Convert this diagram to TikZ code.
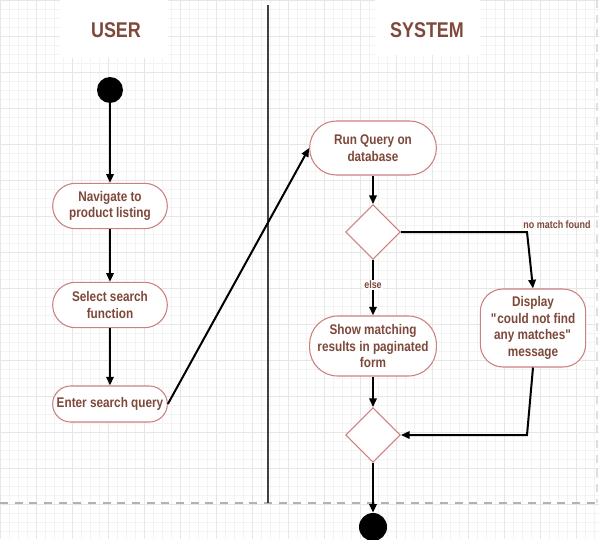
\documentclass[tikz,border=0pt]{standalone}
\usepackage{fontspec}
\setmainfont{Liberation Sans}[FakeStretch=0.84]
\usetikzlibrary{arrows.meta, shapes.geometric, positioning}

\definecolor{txtbrown}{RGB}{126,72,58}
\definecolor{edgered}{RGB}{204,128,128}
\definecolor{gridgray}{RGB}{243,243,243}
\definecolor{gridmajor}{RGB}{230,230,230}

\tikzset{
  activity/.style={draw=edgered, fill=white, line width=0.8pt, text=txtbrown,
    font=\bfseries\fontsize{10.5}{12.5}\selectfont, align=center, inner sep=1pt},
  choice/.style={diamond, draw=edgered, fill=white, line width=0.8pt,
    minimum size=41pt, inner sep=0pt},
  dot/.style={circle, fill=black, inner sep=0pt},
  flow/.style={line width=1.5pt, -{Triangle[width=5.5pt,length=6.5pt]}},
  lbl/.style={text=txtbrown, font=\bfseries\fontsize{8}{9}\selectfont, inner sep=1pt},
  lane/.style={text=txtbrown, font=\bfseries\fontsize{16}{18}\selectfont}
}

\begin{document}
\begin{tikzpicture}[x=0.75pt, y=0.75pt]
  \useasboundingbox (0,-539) rectangle (599,0);

  % Background grid
  \fill[white] (0,-539) rectangle (599,0);
  \draw[gridgray, line width=0.4pt, step=9] (0,-539) grid (599,0);
  \draw[gridmajor, line width=0.5pt, step=36] (0,-539) grid (599,0);
  \fill[white] (60,-58) rectangle (168,0);
  \fill[white] (375,-55) rectangle (480,0);

  % Swimlanes
  \draw[gray!60, line width=1pt, dash pattern=on 6pt off 5pt] (0,-503) -- (599,-503);
  \draw[gray!25, line width=1pt, dash pattern=on 6pt off 5pt] (597,0) -- (597,-503);
  \draw[darkgray, line width=1.5pt] (268,-5) -- (268,-503);
  \node (user) [lane] at (116,-30) {USER};
  \node (system) [lane] at (427,-30) {SYSTEM};

  % User actions
  \node (start) [dot, minimum size=19.5pt] at (110,-90) {};
  \node (navigate) [activity, minimum width=86pt, minimum height=34pt, rounded corners=17pt]
    at (110,-206) {Navigate to\\product listing};
  \node (select) [activity, minimum width=86pt, minimum height=34pt, rounded corners=17pt]
    at (110,-305) {Select search\\function};
  \node (enter) [activity, minimum width=86pt, minimum height=27pt, rounded corners=13.5pt]
    at (110,-404) {Enter search query};

  % System actions
  \node (runquery) [activity, minimum width=95pt, minimum height=40.5pt, rounded corners=20pt]
    at (373,-148) {Run Query on\\database};
  \node (check) [choice] at (373,-232) {};
  \node (results) [activity, minimum width=95pt, minimum height=45pt, rounded corners=21pt]
    at (373,-346) {Show matching\\results in paginated\\form};
  \node (nomsg) [activity, minimum width=79pt, minimum height=58.5pt, rounded corners=17pt]
    at (533,-328) {Display\\\textquotedbl could not find\\any matches\textquotedbl\\message};
  \node (merge) [choice] at (373,-435) {};
  \node (finish) [dot, minimum size=21pt] at (373,-527) {};

  \coordinate (turnA) at (527,-232);
  \coordinate (turnB) at (527,-435);

  % Control flow
  \draw[flow] (start) -- (navigate);
  \draw[flow] (navigate) -- (select);
  \draw[flow] (select) -- (enter);
  \draw[flow] (enter.east) -- (runquery.west);
  \draw[flow] (runquery) -- (check);
  \draw[flow] (check.south) -- (results.north)
    node[lbl, fill=white, pos=0.45] {else};
  \draw[flow] (check.east) -- (turnA) -- (nomsg.north);
  \node (nomatch) [lbl] at (557,-225) {no match found};
  \draw[flow] (results) -- (merge);
  \draw[flow] (nomsg.south) -- (turnB) -- (merge.east);
  \draw[flow] (merge) -- (finish);
\end{tikzpicture}
\end{document}
